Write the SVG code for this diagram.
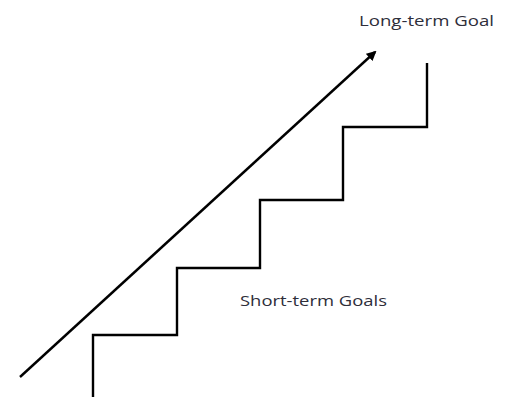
<svg xmlns="http://www.w3.org/2000/svg" width="508" height="397" viewBox="0 0 508 397">
<style>
.lbl{font-family:"Open Sans","Liberation Sans",sans-serif;font-size:15px;fill:#2e2e3a}
.ln{fill:none;stroke:#000;stroke-width:2.4}
</style>
<defs>
<marker id="ah" markerWidth="10" markerHeight="10" refX="8" refY="5" orient="auto" markerUnits="userSpaceOnUse">
<path d="M0,0 L10,5 L0,10 z" fill="#000"/>
</marker>
</defs>
<rect width="508" height="397" fill="#fff"/>
<g id="connectors">
<line class="ln" x1="20" y1="377" x2="375" y2="52" marker-end="url(#ah)"/>
</g>
<g id="stairs">
<path class="ln" d="M93,397 V335 H177 V268 H260 V200 H343 V127 H427 V63"/>
</g>
<g id="long-term">
<text class="lbl" x="359" y="26" textLength="135" lengthAdjust="spacingAndGlyphs">Long-term Goal</text>
</g>
<g id="short-term">
<text class="lbl" x="240" y="306" textLength="147" lengthAdjust="spacingAndGlyphs">Short-term Goals</text>
</g>
</svg>
